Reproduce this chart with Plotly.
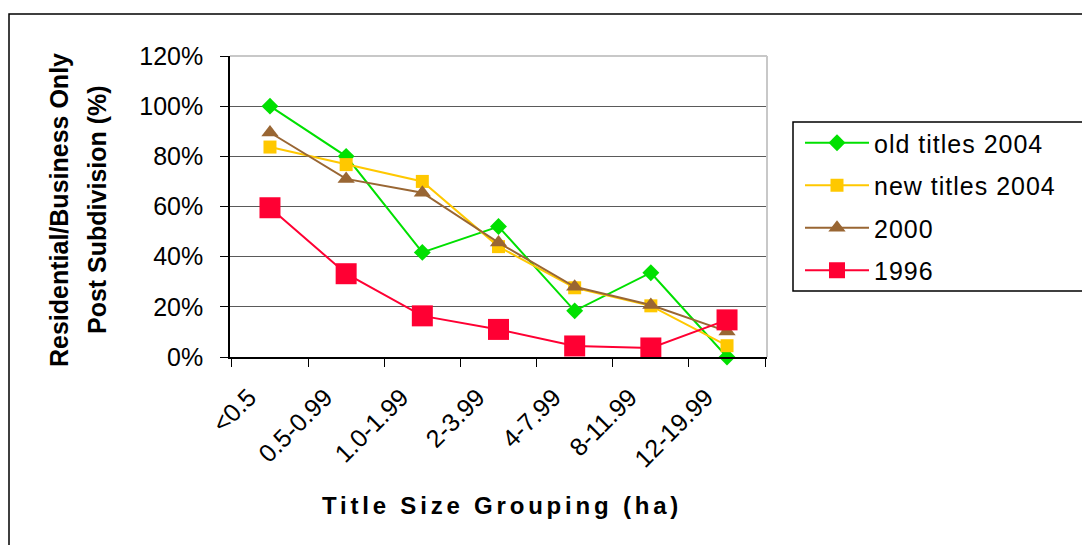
import plotly.graph_objects as go

# Title size groups (ha)
size_groups = ["<0.5", "0.5-0.99", "1.0-1.99", "2-3.99", "4-7.99", "8-11.99", "12-19.99"]

# Share of titles used for residential/business only after subdivision (%)
old_titles_2004 = [100.0, 80.0, 41.7, 52.0, 18.4, 33.6, 0.0]
new_titles_2004 = [83.7, 76.7, 70.0, 44.0, 27.6, 20.4, 4.5]
year_2000 = [89.5, 71.0, 65.5, 45.6, 28.0, 20.7, 10.2]
year_1996 = [59.5, 33.2, 16.4, 11.0, 4.4, 3.6, 14.8]

# Figure geometry in pixels
W, H = 1082, 545
L, R, T, B = 230, 1082 - 767, 56, 545 - 357
PW, PH = W - L - R, H - T - B


def px_x(px):
    return (px - L) / PW


def px_y(py):
    return (H - B - py) / PH


def spaced(text, gap):
    return f'<span style="letter-spacing:{gap}px">{text}</span>'


FONT = "Liberation Sans, Arial, sans-serif"

series = [
    ("old titles 2004", old_titles_2004, "#00e000", "diamond", 13),
    ("new titles 2004", new_titles_2004, "#ffc800", "square", 13),
    ("2000", year_2000, "#996633", "triangle-up", 15),
    ("1996", year_1996, "#ff0033", "square", 21),
]

fig = go.Figure()
for name, vals, color, symbol, size in series:
    fig.add_trace(go.Scatter(
        x=size_groups, y=vals, name=spaced(name, 1), mode="lines+markers",
        legendgroup=name, cliponaxis=False,
        line=dict(color=color, width=2),
        marker=dict(symbol=symbol, size=size, color=color, line=dict(width=0)),
    ))

# Two-line rotated y-axis title, one annotation per line
y_title_lines = [("Residential/Business Only", 59), ("Post Subdivision (%)", 97)]
annotations = [
    dict(
        text=f"<b>{line}</b>",
        x=px_x(cx), y=px_y(210), xref="paper", yref="paper",
        textangle=-90, showarrow=False, xanchor="center", yanchor="middle",
        font=dict(size=25, family=FONT),
    )
    for line, cx in y_title_lines
]
annotations.append(dict(
    text="<b>" + spaced("Title Size Grouping (ha)", 3.8) + "</b>",
    x=px_x(502), y=px_y(505), xref="paper", yref="paper",
    showarrow=False, xanchor="center", yanchor="middle",
    font=dict(size=24, family=FONT),
))

fig.update_layout(
    width=W, height=H,
    margin=dict(l=L, r=R, t=T, b=B, pad=0, autoexpand=False),
    paper_bgcolor="white", plot_bgcolor="white",
    font=dict(family=FONT, color="black", size=25),
    showlegend=True,
    legend=dict(
        x=px_x(800), y=px_y(120), xanchor="left", yanchor="top",
        font=dict(size=25, family=FONT),
        itemwidth=64, tracegroupgap=7,
        bgcolor="rgba(0,0,0,0)", borderwidth=0,
    ),
    xaxis=dict(
        type="category", tickangle=-45, tickson="boundaries",
        ticks="outside", ticklen=8, tickcolor="black", tickwidth=1,
        showline=True, linecolor="black", linewidth=1.5,
        showgrid=False, zeroline=False,
        ticklabelshift=-21, ticklabelstandoff=14,
        tickfont=dict(size=25, family=FONT),
    ),
    yaxis=dict(
        range=[0, 120], dtick=20, ticksuffix="%",
        ticks="outside", ticklen=8, tickcolor="black", tickwidth=1,
        showline=True, linecolor="black", linewidth=1.5,
        showgrid=True, gridcolor="#5a5a5a", gridwidth=1.3,
        zeroline=False, ticklabelstandoff=12,
        tickfont=dict(size=25, family=FONT),
    ),
    annotations=annotations,
    shapes=[
        # outer chart frame
        dict(type="rect", xref="paper", yref="paper",
             x0=px_x(9), x1=px_x(1095), y0=px_y(560), y1=px_y(14),
             line=dict(color="black", width=1.5), layer="below"),
        # light frame on top/right of the plot area
        dict(type="line", xref="paper", yref="paper", x0=0, x1=1, y0=1, y1=1,
             line=dict(color="#c8c8c8", width=2)),
        dict(type="line", xref="paper", yref="paper", x0=1, x1=1, y0=0, y1=1,
             line=dict(color="#c8c8c8", width=2)),
        # legend box
        dict(type="rect", xref="paper", yref="paper",
             x0=px_x(793), x1=px_x(1095), y0=px_y(291), y1=px_y(122),
             line=dict(color="black", width=1.5)),
    ],
)

fig.write_html("out.html")
